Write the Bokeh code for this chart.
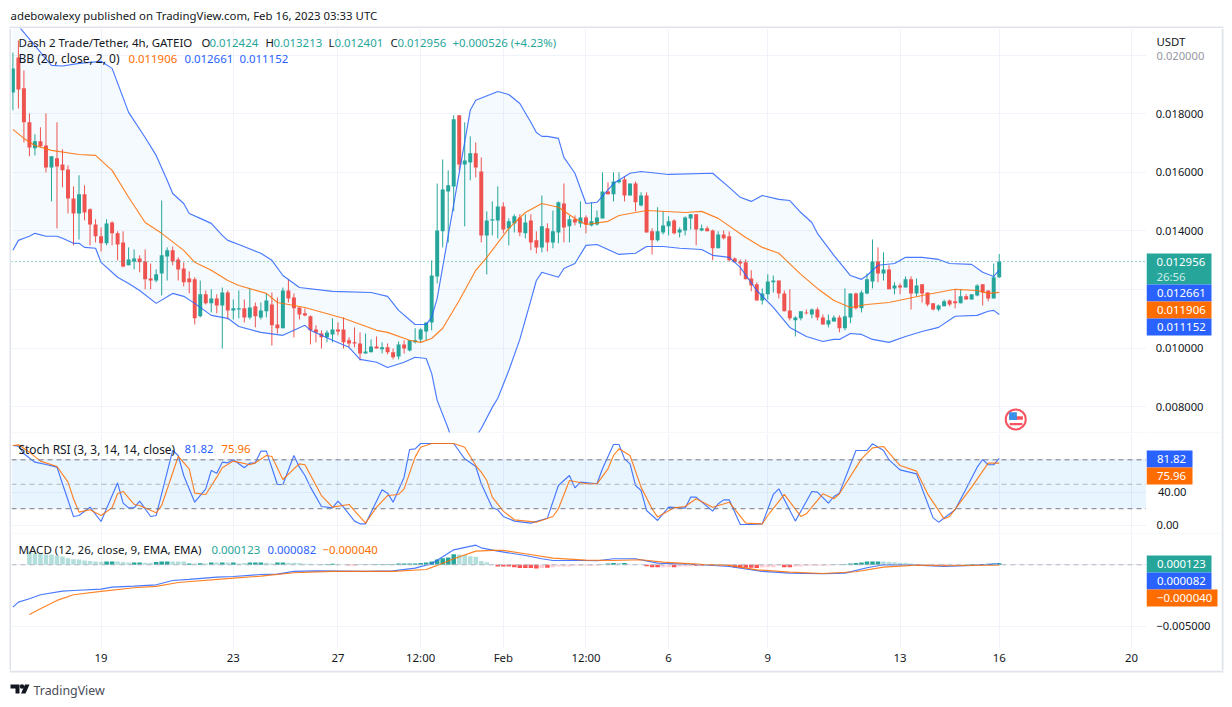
from bokeh.plotting import figure
from bokeh.layouts import column, row
from bokeh.models import (Range1d, FixedTicker, BoxAnnotation, Label, Span, Grid, LinearAxis)
from bokeh.embed import file_html
from bokeh.resources import INLINE
import numpy as np

# ---------- data (prices in thousandths of USDT) ----------
opens = [18.73,19.92,18.87,17.71,16.82,17.06,16.92,16.17,16.48,16.27,
16.10,15.11,14.60,15.25,14.74,14.22,13.82,13.58,14.29,13.92,
13.61,12.83,12.96,13.06,12.96,12.38,12.31,12.55,13.13,13.34,
13.03,12.72,12.38,12.35,11.09,11.84,11.53,11.70,11.46,11.90,
11.29,11.32,11.36,11.05,11.43,11.05,11.26,11.49,10.81,10.68,
11.97,11.73,11.39,11.19,11.09,10.64,10.50,10.37,10.47,10.64,
10.64,10.27,10.20,10.16,9.82,9.86,10.06,9.96,10.03,9.86,
9.72,10.13,9.92,10.20,10.30,10.57,10.88,12.45,13.99,15.35,
15.52,17.95,16.27,16.34,16.65,16.03,13.85,14.36,14.36,14.84,
14.09,14.26,14.46,13.92,14.36,13.68,13.44,14.09,13.61,13.95,
14.94,14.16,14.40,14.26,14.46,14.19,14.22,14.43,15.35,15.25,
15.66,15.76,15.21,15.62,14.87,15.21,13.99,13.68,13.95,14.16,
14.36,13.95,14.02,14.43,14.57,14.02,14.09,14.02,13.41,13.88,
13.82,13.06,12.96,12.93,12.38,12.18,11.63,11.84,12.25,12.31,
11.87,11.29,10.95,11.02,11.22,11.15,11.32,11.05,10.81,10.91,
11.05,10.68,11.05,11.87,11.36,11.87,12.28,12.96,12.55,12.69,
12.04,12.14,12.07,12.35,11.87,12.18,11.90,11.53,11.32,11.43,
11.63,11.60,11.53,11.77,11.66,11.80,12.18,11.97,11.70,12.424]
highs = [20.09,20.50,19.48,18.01,17.30,17.54,18.01,16.55,17.71,16.79,
16.24,15.52,15.90,15.56,14.77,14.40,14.12,14.40,14.33,13.99,
13.99,13.44,13.37,13.17,13.37,12.89,12.69,15.04,13.44,13.47,
13.10,12.93,12.62,12.42,12.31,11.97,12.01,11.84,12.07,11.97,
11.66,11.97,11.66,12.04,11.56,11.56,11.87,11.90,11.73,12.07,
12.35,11.87,11.39,11.36,11.12,10.78,10.61,10.61,11.02,10.88,
11.05,10.37,10.71,10.54,10.50,10.30,10.40,10.20,10.16,9.99,
10.23,10.27,10.27,10.68,10.68,10.88,13.00,15.62,16.44,16.07,
17.95,17.95,17.71,17.23,17.02,16.51,14.67,15.01,15.52,14.98,
14.43,14.57,14.57,14.57,14.57,13.99,15.21,14.26,14.70,15.01,
15.62,14.53,14.53,15.01,14.53,14.98,14.70,16.00,15.66,16.00,
16.00,15.86,15.62,15.69,15.32,15.32,14.09,14.81,14.67,14.50,
14.40,14.12,14.50,14.57,14.57,14.22,14.16,14.05,13.99,14.02,
13.99,13.10,13.03,13.03,12.66,12.25,12.04,12.52,12.48,12.31,
11.97,12.01,11.09,11.26,11.32,11.36,11.39,11.15,11.15,11.12,
11.12,12.04,11.87,11.90,11.97,12.55,13.71,13.44,13.27,12.83,
12.25,12.21,12.45,12.45,12.38,12.18,11.90,11.53,11.49,11.66,
11.66,12.01,12.01,11.84,11.84,12.18,12.18,11.97,12.89,13.213]
lows = [18.12,18.18,17.02,16.55,16.58,16.85,16.00,15.01,14.09,15.49,
14.60,13.51,13.71,14.36,13.51,13.61,13.30,13.51,13.51,13.00,
12.76,12.83,12.69,12.59,12.01,12.01,12.25,11.80,12.31,12.83,
12.31,12.11,11.87,10.81,11.05,11.49,11.22,11.19,9.99,10.98,
10.98,11.02,10.88,10.98,10.71,10.98,11.05,10.09,10.50,10.68,
11.56,10.37,10.98,11.09,10.13,10.20,9.99,10.20,10.20,10.44,
9.99,10.03,10.03,9.58,9.82,9.86,9.99,9.82,9.79,9.62,
9.62,9.82,9.89,10.16,10.20,10.27,10.61,12.21,13.44,13.61,
14.67,16.07,14.16,15.73,15.83,13.61,12.52,13.85,13.75,13.92,
13.51,13.95,13.82,13.75,13.34,13.24,13.27,13.30,13.41,13.58,
13.61,13.61,14.19,14.12,13.92,14.16,14.19,14.43,15.25,15.01,
15.62,15.01,15.21,14.67,14.84,13.95,13.20,13.64,13.88,13.85,
13.88,13.78,13.85,14.05,13.51,13.99,13.99,13.00,13.41,13.71,
12.96,12.93,12.48,12.35,11.94,11.63,11.49,11.66,11.90,11.70,
11.26,10.95,10.40,10.95,11.15,11.02,10.95,10.81,10.71,10.91,
10.54,10.61,10.85,11.32,11.22,11.84,12.04,12.25,12.31,12.01,
11.84,11.84,12.07,11.32,11.77,11.56,11.43,11.29,11.26,11.43,
11.43,11.36,11.53,11.66,11.66,11.77,11.46,11.60,11.70,12.401]
closes = [19.55,18.83,17.71,16.85,17.06,16.89,16.17,16.55,16.20,16.07,
15.11,14.60,15.25,14.63,14.22,13.82,13.58,14.26,13.92,13.54,
12.79,13.03,13.06,12.93,12.35,12.31,12.52,13.17,13.34,12.96,
12.69,12.25,12.25,11.02,11.84,11.53,11.70,11.46,11.90,11.29,
11.36,11.36,11.05,11.39,11.09,11.29,11.63,10.78,10.68,11.97,
11.70,11.36,11.15,11.12,10.61,10.54,10.37,10.54,10.64,10.57,
10.20,10.16,10.16,9.82,9.89,10.06,9.99,10.03,9.86,9.69,
10.13,9.99,10.27,10.27,10.64,10.88,12.48,14.02,15.42,15.56,
17.81,16.27,16.41,16.65,16.17,13.85,14.36,14.40,14.84,14.05,
14.33,14.50,13.95,14.29,13.61,13.44,14.16,13.61,13.99,14.98,
14.12,14.40,14.29,14.46,14.22,14.33,14.46,15.35,15.25,15.69,
15.73,15.21,15.62,14.98,15.21,13.95,13.68,13.99,14.19,14.33,
13.92,14.05,14.46,14.57,14.05,14.09,13.99,13.41,13.88,13.75,
13.00,12.93,12.89,12.35,12.14,11.63,11.87,12.28,12.31,11.87,
11.26,11.02,11.05,11.26,11.19,11.32,11.05,10.81,10.95,11.05,
10.68,11.09,11.87,11.36,11.90,12.35,12.96,12.55,12.69,12.01,
12.14,12.07,12.35,11.87,12.14,11.87,11.49,11.32,11.46,11.60,
11.49,11.53,11.77,11.66,11.84,12.14,11.90,11.70,12.42,12.956]

bb_upper_i = [0,1,7,9,12,16,18,21,24,26,28,29,31,32,34,36,38,39,41,45,47,49,52,58,65,68,70,73,75,76,77,83,84,88,90,92,94,95,96,97,99,100,102,104,106,109,112,114,119,127,130,132,134,136,139,141,143,145,146,149,152,154,155,157,160,162,165,168,170,174,176,178,179]
bb_upper = [21.5,21.0,19.65,19.63,19.72,19.79,19.55,18.05,17.19,16.58,15.73,15.28,14.94,14.60,14.43,14.26,13.85,13.68,13.54,13.24,13.00,12.48,12.07,11.94,11.90,11.77,11.29,10.81,10.81,11.05,11.70,18.12,18.46,18.76,18.66,18.35,17.71,17.36,17.23,17.23,17.16,16.51,15.97,14.94,14.98,15.62,15.97,16.03,15.93,15.97,15.49,15.15,15.01,15.21,15.08,15.04,14.63,14.29,13.92,13.17,12.48,12.35,12.48,12.83,12.89,13.10,13.10,13.03,12.89,12.86,12.59,12.45,12.661]
bb_mid_i = [0,2,4,7,12,15,18,21,24,27,31,33,36,39,41,46,48,53,60,66,68,72,74,76,78,81,84,86,90,93,96,99,102,104,108,110,115,122,125,128,133,136,139,143,146,149,152,155,159,165,171,175,177,179]
bb_mid = [17.47,17.16,16.92,16.75,16.61,16.58,16.07,15.15,14.29,13.92,13.34,12.93,12.66,12.31,12.14,11.87,11.56,11.39,11.02,10.61,10.54,10.27,10.20,10.33,10.68,11.63,12.66,13.10,14.09,14.63,14.94,14.81,14.43,14.22,14.33,14.53,14.70,14.63,14.67,14.43,13.78,13.44,13.24,12.52,12.04,11.63,11.39,11.49,11.56,11.80,12.01,11.97,11.87,11.906]
bb_lower_i = [0,1,2,3,4,6,8,9,11,12,13,15,16,19,21,23,26,29,31,33,36,39,41,45,49,53,54,58,61,63,66,68,71,73,75,76,77,79,80,83,85,87,88,90,92,94,95,96,99,100,102,104,106,110,113,115,118,121,125,127,130,132,135,138,141,144,147,149,150,152,154,156,159,162,165,168,171,175,177,178,179]
bb_lower = [13.34,13.68,13.75,13.82,13.92,13.82,13.82,13.75,13.58,13.58,13.44,13.41,12.93,12.42,12.21,11.97,11.53,11.87,11.77,11.53,11.12,11.02,10.74,10.54,10.44,10.78,10.61,10.27,10.03,9.62,9.52,9.34,9.52,9.69,9.65,9.14,8.22,7.26,6.68,6.68,7.26,7.98,8.29,9.24,10.30,11.63,12.31,12.59,12.42,12.72,12.89,13.51,13.54,13.20,13.24,13.47,13.47,13.41,13.37,13.17,13.10,12.76,11.97,11.39,10.71,10.40,10.23,10.30,10.30,10.50,10.47,10.30,10.20,10.40,10.57,10.71,11.09,11.12,11.26,11.29,11.152]

stoch_k_i = [0,1,2,4,6,8,9,11,12,14,16,19,20,21,22,23,25,26,29,30,31,33,35,36,37,38,39,40,42,43,44,45,46,48,49,51,52,53,54,56,58,59,60,62,63,64,67,68,69,71,72,73,74,76,80,82,84,85,87,88,89,91,94,97,99,101,102,103,106,107,109,110,111,112,113,114,115,117,119,122,123,124,127,128,129,130,132,134,136,138,139,142,145,146,148,149,150,153,155,156,158,159,161,164,167,168,171,173,175,176,177,178,179]
stoch_k = [97.6,96.8,87.4,77.1,74.3,71,50.6,10.5,11.7,21.9,4.3,51.8,26.8,21.1,21.1,29.3,10.5,11.7,91.5,85.3,60.8,28,44.4,66.9,63.6,77.1,76.3,80,70.2,75.9,76.3,90.6,90.6,49.7,49.7,85.3,71,60.8,46.5,22.7,21.1,29.3,21.9,4.8,1.5,1.5,43.2,39.1,28,58.7,92.7,93.5,100,100,100,81.2,71.8,50.6,21.1,18.7,10.5,4.8,2.3,8.4,48.5,60.8,45.6,52.6,50.6,69,98.8,98.8,81.2,75.1,48.5,42.4,17.8,5.6,21.9,20.7,34.2,34.2,17,26,30.9,30.9,0.7,0.7,1.5,37.5,44.4,4.8,41.2,40.3,26.8,35,39.1,91.5,91.5,99.6,91.5,80,67.7,62.8,8.8,3.5,18.7,44.4,71,80.4,73.9,73.9,81.82]
stoch_d_i = [0,1,3,5,8,10,11,12,14,16,18,19,20,22,23,26,27,30,32,33,35,37,38,40,43,44,46,47,49,51,52,53,56,58,61,64,66,68,70,71,73,74,76,80,82,84,85,86,87,89,91,95,98,99,101,104,106,108,109,110,112,114,116,117,120,122,124,127,130,133,136,137,140,143,144,147,149,150,154,156,158,161,164,166,169,170,174,177,179]
stoch_d = [97.6,98.4,89.4,78.4,71.8,52.6,32.2,15.8,18.7,11.7,21.1,38.3,41.2,25.2,24,15,24,84.1,69,39.1,37.5,58.7,70.2,78.4,73.9,76.3,85.3,84.1,55.9,69,75.1,73.9,36.2,21.9,25.2,2.3,21.9,36.2,37.5,44.4,83.3,95.5,100,100,95.5,73,64.9,54.7,34.2,17,6.4,3.5,10.5,19.9,54.7,50.6,50.6,69,85.3,93.5,85.3,46.5,19.9,9.7,21.1,22.7,32.2,21.9,28,2.3,1.5,11.7,37.5,10.5,13.8,38.3,32.2,38.3,81.2,94.7,96.4,73,66.1,38.3,7.6,10.5,46.5,75.9,75.96]

macd_i = [0,1,3,5,9,11,16,18,22,26,29,32,37,40,45,48,51,55,64,69,73,76,80,84,85,88,93,96,98,104,106,109,113,117,125,130,136,141,147,151,155,158,164,169,174,179]
macd = [-3.45,-3.04,-2.77,-2.44,-2.14,-2.09,-1.98,-1.82,-1.74,-1.63,-1.28,-1.19,-1.0,-.95,-.79,-.76,-.54,-.49,-.54,-.49,-.27,.08,1.22,1.60,1.38,1.11,.76,.49,.35,.35,.33,.49,.49,.14,0,-.14,-.54,-.68,-.73,-.68,-.24,0,-.03,-.14,-.05,.082]
signal_i = [3,5,8,11,16,22,26,30,40,45,51,58,69,75,77,80,84,87,89,93,98,104,109,114,118,125,130,135,141,147,153,158,164,169,174,179]
signal = [-4.04,-3.58,-2.9,-2.44,-2.17,-1.87,-1.76,-1.44,-1.09,-.92,-.65,-.54,-.54,-.38,-.05,.49,1.11,1.17,1.17,.90,.54,.38,.35,.41,.22,.03,-.05,-.41,-.60,-.71,-.57,-.19,-.03,-.08,-.05,-.04]
hist = [1.11,.95,.90,.84,.84,.76,.68,.54,.46,.43,.35,.30,.27,.24,.27,.27,.27,.22,.19,.19,.19,.16,.16,.22,.27,.27,.27,.27,.27,
.11,.10,.13,.11,.19,.19,.19,.19,.19,.11,.14,.19,.19,.19,.16,.11,.19,.19,.16,.16,.14,.08,.08,.05,.03,.05,.08,.03,.03,
-.03,-.03,.03,.03,.03,.05,.05,.05,.05,.10,.11,.11,.11,.14,.19,.27,.43,.54,.60,.85,.84,.80,.70,.65,.30,.20,.05,
-.14,-.14,-.14,-.19,-.27,-.27,-.27,-.30,-.27,-.24,-.20,-.14,-.14,-.14,-.08,-.08,-.08,-.08,-.05,.03,.11,.14,.14,.14,.03,.03,.03,
-.11,-.19,-.19,-.19,-.19,-.19,-.14,-.14,-.11,-.08,-.05,-.03,-.03,-.03,-.03,-.05,-.19,-.22,-.24,-.24,-.27,-.22,-.20,-.20,-.05,-.19,-.19,-.14,-.14,-.08,-.08,-.08,-.08,-.05,
.03,.03,.05,.11,.14,.19,.27,.27,.27,.27,.24,.20,.16,.16,.11,.05,.03,-.05,-.05,-.05,-.05,-.03,-.03,-.02,.03,.05,.05,.05,.08,.11,.123]
hist_start = 3
hist_shade_runs = [("L",14),("D",2),("L",3),("D",2),("L",2),("D",3),("L",3),("D",1),("L",1),("D",1),("L",1),("D",1),("L",1),("D",1),("L",1),("D",1),("L",2),("D",3),("L",2),("D",2),("L",6),("D",3),("L",2),("D",20),("L",7),("D",8),("L",1),("D",1),("L",9),("D",3),("L",1),("D",1),("L",3),("D",3),("L",2),("D",1),("L",3),("D",12),("L",4),("D",2),("L",7),("D",9),("L",8),("D",4),("L",3),("D",7)]

time_ticks = [16,40,59,74,89,104,119,137,161,179,203]
time_labels = ["19","23","27","12:00","Feb","12:00","6","9","13","16","20"]
price_ticks = [0.008,0.010,0.012,0.014,0.016,0.018,0.020]
price_labels = ["0.008000","0.010000","","0.014000","0.016000","0.018000",""]
stoch_ticks = [0,40,80]
stoch_labels = ["","40.00",""]
macd_ticks = [-0.005,0]
macd_labels = ["\u22120.005000",""]

# ---------- style ----------
FONT = "Noto Sans"
UP, DOWN = "#26a69a", "#ef5350"
BLUE, ORANGE = "#2962ff", "#ff6d00"
TEXT, GRID, EDGE = "#131722", "#f0f3fa", "#e0e3eb"
LW = 1.15
LEFT_X, RIGHT_X = 11, 1146      # page x of the left edge of the chart and of the price scale
LEFT_W, RIGHT_W = 1135, 75
x_range = Range1d(-0.254, 205.73)

def fig(width, height, xr, yr, bottom=0, fill="white"):
    f = figure(width=width, height=height, x_range=xr, y_range=yr, output_backend="svg",
               toolbar_location=None, x_axis_type=None, y_axis_type=None,
               min_border_left=0, min_border_right=0, min_border_top=0, min_border_bottom=bottom)
    f.outline_line_color = None
    f.background_fill_color = "white"
    f.border_fill_color = fill
    return f

def chart(height, yr, yticks, bottom=0, fill=EDGE):
    f = fig(LEFT_W, height, x_range, yr, bottom, fill)
    f.add_layout(Grid(dimension=0, ticker=FixedTicker(ticks=time_ticks), grid_line_color=GRID))
    f.add_layout(Grid(dimension=1, ticker=FixedTicker(ticks=yticks), grid_line_color=GRID))
    return f

def scale_fig(height, yr, yticks, ylabels, standoff, bottom=0, fill=EDGE):
    f = fig(RIGHT_W, height, Range1d(RIGHT_X, RIGHT_X + RIGHT_W), yr, bottom, fill)
    f.add_layout(LinearAxis(ticker=FixedTicker(ticks=yticks), major_label_overrides=dict(zip(yticks, ylabels)),
                            axis_line_color=None, major_tick_line_color=None, minor_tick_line_color=None,
                            major_tick_in=0, major_tick_out=0, minor_tick_in=0, minor_tick_out=0,
                            major_label_standoff=standoff, major_label_text_font=FONT,
                            major_label_text_font_size="11.2px", major_label_text_color=TEXT), "left")
    return f

def box(f, page_x, page_top, x0, x1, y0, y1, color):
    f.add_layout(BoxAnnotation(left=x0 - page_x, right=x1 - page_x, top=y0 - page_top, bottom=y1 - page_top,
                               left_units="canvas", right_units="canvas", top_units="canvas", bottom_units="canvas",
                               fill_color=color, fill_alpha=1, line_color=None, level="annotation"))

def txt(f, page_x, page_top, x, y, text, color=TEXT, size="11.4px"):
    f.add_layout(Label(x=x - page_x, y=y - page_top, x_units="canvas", y_units="canvas", text=text,
                       text_color=color, text_font=FONT, text_font_size=size, text_baseline="middle",
                       text_align="left", level="annotation"))

def tag(f, page_top, x1, y0, y1, text, color):
    box(f, RIGHT_X, page_top, RIGHT_X, x1, y0, y1, color)
    txt(f, RIGHT_X, page_top, RIGHT_X + 10.5, (y0 + y1) / 2, text, "white")

# ---------- header ----------
header = fig(1216, 20, Range1d(8, 1224), Range1d(28, 8))
txt(header, 8, 8, 10, 15, "adebowalexy published on TradingView.com, Feb 16, 2023 03:33 UTC", TEXT, "11.4px")
header.quad(left=[9], right=[1223], top=[26], bottom=[28], fill_color=EDGE, line_color=None)

# ---------- main price pane ----------
T1 = 28
price_range = Range1d(0.007123, 0.020911)
main = chart(405, price_range, price_ticks, bottom=1)
scale = 1e-3
o, h, l, c = [np.array(a) * scale for a in (opens, highs, lows, closes)]
idx = np.arange(len(o))
col = [UP if cc >= oo else DOWN for oo, cc in zip(o, c)]

ux, uy = np.array(bb_upper_i), np.array(bb_upper) * scale
lx, ly = np.array(bb_lower_i), np.array(bb_lower) * scale
main.patch(np.concatenate([ux, lx[::-1]]), np.concatenate([uy, ly[::-1]]),
           fill_color="#2196f3", fill_alpha=0.05, line_color=None)
main.add_layout(Span(location=closes[-1] * scale, dimension="width", line_color=UP, line_dash="1 3", line_width=1))
main.segment(idx, h, idx, l, color=col, line_width=1)
main.vbar(idx, width=0.72, top=np.maximum(o, c), bottom=np.minimum(o, c), fill_color=col, line_color=None)
main.line(ux, uy, line_color=BLUE, line_width=LW, line_alpha=0.85)
main.line(lx, ly, line_color=BLUE, line_width=LW, line_alpha=0.85)
main.line(bb_mid_i, np.array(bb_mid) * scale, line_color=ORANGE, line_width=LW, line_alpha=0.85)

# calendar event flag (US)
main.scatter([182], [0.00757], size=20, marker="circle", fill_color="white", line_color="#f7525f", line_width=2)
main.quad(left=[180.8], right=[183.3], top=[0.00768], bottom=[0.00756], fill_color="#f7525f", line_color=None)
main.quad(left=[180.9], right=[183.2], top=[0.00745], bottom=[0.00737], fill_color="#f7525f", line_color=None)
main.quad(left=[180.8], right=[182.2], top=[0.00781], bottom=[0.00755], fill_color="#3a8fe8", line_color=None)

txt(main, LEFT_X, T1, 18, 42, "Dash 2 Trade/Tether, 4h, GATEIO", TEXT, "11.5px")
for x, s, cl in [(201, "O", TEXT), (209, "0.012424", UP), (265, "H", TEXT),
                 (273, "0.013213", UP), (328, "L", TEXT), (334, "0.012401", UP), (390, "C", TEXT), (397, "0.012956", UP),
                 (452, "+0.000526 (+4.23%)", UP)]:
    txt(main, LEFT_X, T1, x, 42, s, cl)
txt(main, LEFT_X, T1, 18, 58, "BB (20, close, 2, 0)", TEXT, "12px")
for x, s, cl in [(128, "0.011906", ORANGE), (184, "0.012661", BLUE), (239, "0.011152", BLUE)]:
    txt(main, LEFT_X, T1, x, 58, s, cl)

main_r = scale_fig(405, price_range, price_ticks, price_labels, -57, bottom=1)
txt(main_r, RIGHT_X, T1, 1156, 41, "USDT", TEXT)
txt(main_r, RIGHT_X, T1, 1156, 55, "0.020000", "#9598a1", "11.2px")
box(main_r, RIGHT_X, T1, RIGHT_X, 1211, 253, 284, UP)
txt(main_r, RIGHT_X, T1, 1156, 261, "0.012956", "white")
txt(main_r, RIGHT_X, T1, 1156, 276, "26:56", "#c8ebe6")
tag(main_r, T1, 1211, 284, 301, "0.012661", BLUE)
tag(main_r, T1, 1211, 301, 318, "0.011906", ORANGE)
tag(main_r, T1, 1211, 318, 335, "0.011152", BLUE)

# ---------- Stoch RSI pane ----------
T2 = 433
stoch_range = Range1d(-10.4, 112.3)
st = chart(101, stoch_range, stoch_ticks, bottom=1)
st.add_layout(BoxAnnotation(bottom=20, top=80, fill_color="#2196f3", fill_alpha=0.1, line_color=None, level="underlay"))
st.add_layout(Span(location=80, dimension="width", line_color="#787b86", line_dash="5 4"))
st.add_layout(Span(location=50, dimension="width", line_color="#b2b5be", line_dash="5 4"))
st.add_layout(Span(location=20, dimension="width", line_color="#787b86", line_dash="5 4"))
st.line(stoch_k_i, stoch_k, line_color=BLUE, line_width=LW, line_alpha=0.85)
st.line(stoch_d_i, stoch_d, line_color=ORANGE, line_width=LW, line_alpha=0.85)
txt(st, LEFT_X, T2, 18, 448, "Stoch RSI (3, 3, 14, 14, close)", TEXT, "11.9px")
for x, s, cl in [(184, "81.82", BLUE), (221, "75.96", ORANGE)]:
    txt(st, LEFT_X, T2, x, 448, s, cl)

st_r = scale_fig(101, stoch_range, stoch_ticks, stoch_labels, -40, bottom=1)
txt(st_r, RIGHT_X, T2, 1156, 524.5, "0.00", TEXT, "11.2px")
tag(st_r, T2, 1192, 450, 467, "81.82", BLUE)
tag(st_r, T2, 1192, 467, 484, "75.96", ORANGE)

# ---------- MACD pane ----------
T3 = 534
macd_range = Range1d(-0.006816, 0.002467)
mc = chart(136, macd_range, macd_ticks, bottom=22, fill="white")
mc.add_layout(LinearAxis(ticker=FixedTicker(ticks=time_ticks), major_label_overrides=dict(zip(time_ticks, time_labels)),
                         axis_line_color=None, major_tick_line_color=None, minor_tick_line_color=None,
                         major_tick_in=0, major_tick_out=0, minor_tick_in=0, minor_tick_out=0,
                         major_label_standoff=1, major_label_text_font=FONT, major_label_text_font_size="11.4px",
                         major_label_text_color=TEXT), "below")
mc.add_layout(Span(location=0, dimension="width", line_color="#b2b5be", line_dash="5 4"))
shades = [s for s, n in hist_shade_runs for _ in range(n)]
hx = np.arange(hist_start, hist_start + len(hist))
hv = np.array(hist) * scale
hcol = []
for v, s in zip(hist, shades):
    if v >= 0:
        hcol.append("#26a69a" if s == "D" else "#b2dfdb")
    else:
        hcol.append("#ff5252" if s == "D" else "#ffcdd2")
mc.vbar(hx, width=0.82, top=hv, bottom=0, fill_color=hcol, line_color=None)
mc.line(macd_i, np.array(macd) * scale, line_color=BLUE, line_width=LW, line_alpha=0.85)
mc.line(signal_i, np.array(signal) * scale, line_color=ORANGE, line_width=LW, line_alpha=0.85)
txt(mc, LEFT_X, T3, 18, 549, "MACD (12, 26, close, 9, EMA, EMA)", TEXT, "11.55px")
for x, s, cl in [(211, "0.000123", UP), (267, "0.000082", BLUE), (322, "\u22120.000040", ORANGE)]:
    txt(mc, LEFT_X, T3, x, 549, s, cl)

mc_r = scale_fig(136, macd_range, macd_ticks, macd_labels, -64, bottom=22, fill="white")
tag(mc_r, T3, 1211, 555, 572, "0.000123", UP)
tag(mc_r, T3, 1211, 572, 589, "0.000082", BLUE)
tag(mc_r, T3, 1217, 589, 606, "\u22120.000040", ORANGE)

# ---------- widget side edges ----------
def strip(x0, x1, e0, e1):
    s = fig(x1 - x0, 642, Range1d(x0, x1), Range1d(0, 1))
    s.quad(left=[e0], right=[e1], top=[1], bottom=[0], fill_color=EDGE, line_color=None)
    return s
left_edge = strip(8, 11, 9, 11)
right_edge = strip(1221, 1224, 1221, 1223)

# ---------- footer ----------
footer = fig(1216, 29, Range1d(8, 1224), Range1d(699, 670))
footer.quad(left=[9], right=[1223], top=[670], bottom=[672], fill_color=EDGE, line_color=None)
footer.patch([10, 19, 19, 15, 15, 10], [684, 684, 693, 693, 688, 688], fill_color="#131722", line_color=None)
footer.scatter([21.5], [686], size=4.5, marker="circle", fill_color="#131722", line_color=None)
footer.patch([24.5, 29, 25, 20.5], [684, 684, 693, 693], fill_color="#131722", line_color=None)
txt(footer, 8, 670, 33, 689.5, "TradingView", "#4a4e59", "12.4px")

body = row(left_edge, column(main, st, mc, spacing=0), column(main_r, st_r, mc_r, spacing=0), right_edge, spacing=0)
open("out.html", "w").write(file_html(column(header, body, footer, spacing=0, margin=(8, 0, 0, 8)), INLINE))
